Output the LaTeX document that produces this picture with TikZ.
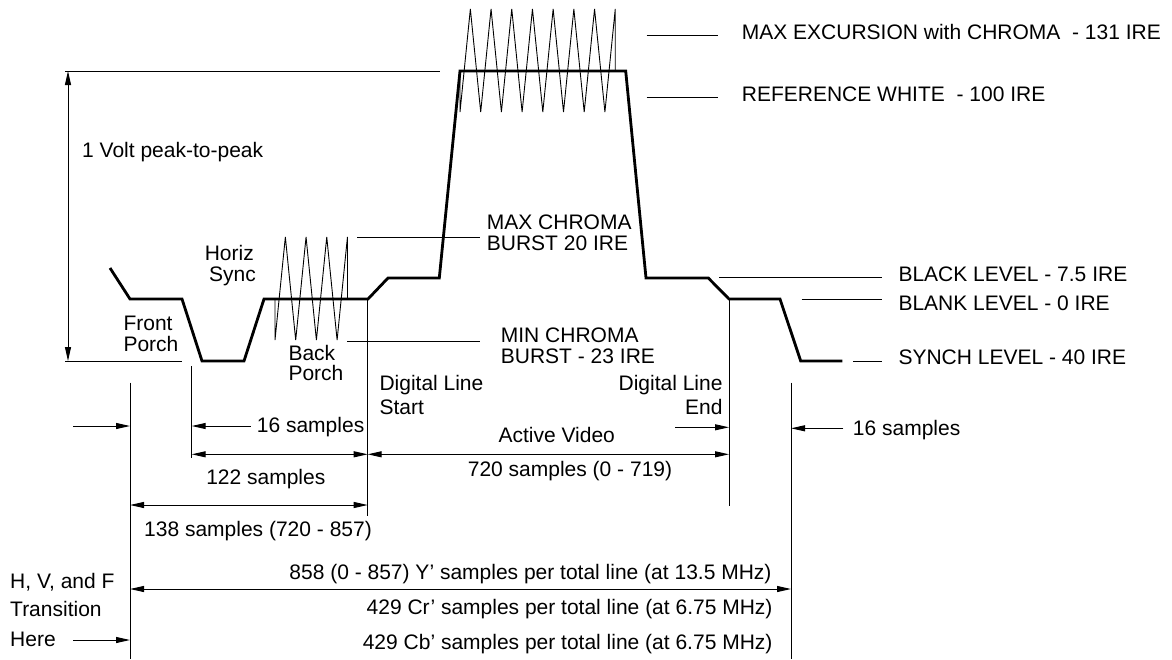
\documentclass[tikz,border=0pt]{standalone}
\usepackage{fontspec}
\setmainfont{Liberation Sans}
\usetikzlibrary{arrows.meta}
\tikzset{
  wave/.style={line width=2.8pt, line join=miter},
  thinln/.style={line width=1pt},
  burstln/.style={line width=0.9pt, line join=miter},
  dimarr/.style={thinln, {Triangle[length=14pt,width=6pt]}-{Triangle[length=14pt,width=6pt]}},
  onearr/.style={thinln, -{Triangle[length=14pt,width=6pt]}},
  lbl/.style={inner sep=0pt, font=\fontsize{21}{24}\selectfont},
}
\begin{document}
\begin{tikzpicture}[x=1pt,y=-1pt]
\useasboundingbox (0,0) rectangle (1172,659);

% ---------- waveform ----------
\draw[wave] (110,268) -- (130,299) -- (182,299) -- (202,361) -- (244,361) -- (264,299)
  -- (368,299) -- (388,278) -- (439.3,278) -- (460,71) -- (625.7,71) -- (646,278)
  -- (708.3,278) -- (729,299) -- (780,299) -- (800.7,361) -- (842.3,361);

% color burst (small)
\draw[burstln] (275,299) -- (275,340)
  \foreach \k in {0,1,2} { -- ({285.35+20.7*\k},237) -- ({295.7+20.7*\k},340) }
  -- (347.45,237) -- (347.45,299);
% chroma (big)
\draw[burstln] (460,71) -- (460,112)
  \foreach \k in {0,...,6} { -- ({470.35+20.7*\k},9) -- ({480.7+20.7*\k},112) }
  -- (615.25,9) -- (615.25,71);

% ---------- 1 V peak-to-peak ----------
\coordinate (ptop) at (68,71);
\coordinate (pbot) at (68,361);
\draw[thinln] (65,71) -- (440,71);
\draw[thinln] (65,361) -- (182,361);
\draw[dimarr] (ptop) -- (pbot);
\node[lbl, anchor=base west] (volt) at (82,157.3) {1 Volt peak-to-peak};

% ---------- leader lines ----------
\draw[thinln] (646.7,35.7) -- (718.3,35.7);
\draw[thinln] (646.7,97.7) -- (718.3,97.7);
\draw[thinln] (357,237) -- (480,237);
\draw[thinln] (347,341) -- (480,341);
\draw[thinln] (719,277.7) -- (882.3,277.7);
\draw[thinln] (801.7,299) -- (882.3,299);
\draw[thinln] (853.3,361) -- (882.3,361);

% ---------- level labels ----------
\node[lbl, anchor=base west] (maxexc) at (741.7,39.3) {MAX EXCURSION with CHROMA\ \ - 131 IRE};
\node[lbl, anchor=base west] (refwh) at (741.7,101.3) {REFERENCE WHITE\ \ - 100 IRE};
\node[lbl, anchor=base west] (black) at (898.3,281.7) {BLACK LEVEL - 7.5 IRE};
\node[lbl, anchor=base west] (blank) at (898.3,310) {BLANK LEVEL - 0 IRE};
\node[lbl, anchor=base west] (synch) at (898.3,364.3) {SYNCH LEVEL - 40 IRE};

\node[lbl, anchor=base west] (maxc1) at (486.7,229.3) {MAX CHROMA};
\node[lbl, anchor=base west] (maxc2) at (486.7,250) {BURST 20 IRE};
\node[lbl, anchor=base west] (minc1) at (500.7,342.7) {MIN CHROMA};
\node[lbl, anchor=base west] (minc2) at (500.7,363.3) {BURST - 23 IRE};

\node[lbl, anchor=base east] (hz1) at (254,260) {Horiz};
\node[lbl, anchor=base east] (hz2) at (256,281) {Sync};
\node[lbl, anchor=base west] (fp1) at (123.3,330) {Front};
\node[lbl, anchor=base west] (fp2) at (123.3,351) {Porch};
\node[lbl, anchor=base west] (bp1) at (288.3,360.7) {Back};
\node[lbl, anchor=base west] (bp2) at (288.3,380) {Porch};

\node[lbl, anchor=base west] (ds1) at (379.3,390.7) {Digital Line};
\node[lbl, anchor=base west] (ds2) at (379.3,414.3) {Start};
\node[lbl, anchor=base east] (de1) at (722.7,390.7) {Digital Line};
\node[lbl, anchor=base east] (de2) at (722.7,414.3) {End};

% ---------- vertical reference lines ----------
\coordinate (vAt) at (130,382.7); \coordinate (vAb) at (130,659);
\coordinate (vBt) at (191.7,366); \coordinate (vBb) at (191.7,458.3);
\coordinate (vCt) at (367.7,299); \coordinate (vCb) at (367.7,515.7);
\coordinate (vDt) at (729,299);   \coordinate (vDb) at (729,505.7);
\coordinate (vEt) at (791,382.7); \coordinate (vEb) at (791,659);
\draw[thinln] (vAt) -- (vAb);
\draw[thinln] (vBt) -- (vBb);
\draw[thinln] (vCt) -- (vCb);
\draw[thinln] (vDt) -- (vDb);
\draw[thinln] (vEt) -- (vEb);

% ---------- dimension arrows ----------
\coordinate (a1s) at (73,426);    \coordinate (a1e) at (130,426);
\draw[onearr] (a1s) -- (a1e);
\coordinate (a2s) at (250.7,426); \coordinate (a2e) at (191.7,426);
\draw[onearr] (a2s) -- (a2e);
\node[lbl, anchor=base west] (s16a) at (256.7,432.3) {16 samples};

\coordinate (a3s) at (191.7,454.3); \coordinate (a3e) at (367.7,454.3);
\draw[dimarr] (a3s) -- (a3e);
\node[lbl, anchor=base] (s122) at (265.8,484.3) {122 samples};

\coordinate (a4s) at (367.7,454.3); \coordinate (a4e) at (729,454.3);
\draw[dimarr] (a4s) -- (a4e);
\node[lbl, anchor=base] (actv) at (556.7,442.7) {Active Video};
\node[lbl, anchor=base] (s720) at (570,476) {720 samples (0 - 719)};

\coordinate (a5s) at (675,427.3); \coordinate (a5e) at (729,427.3);
\draw[onearr] (a5s) -- (a5e);

\coordinate (a6s) at (843.3,428.3); \coordinate (a6e) at (791,428.3);
\draw[onearr] (a6s) -- (a6e);
\node[lbl, anchor=base west] (s16b) at (852.7,435) {16 samples};

\coordinate (a7s) at (130,505); \coordinate (a7e) at (367.7,505);
\draw[dimarr] (a7s) -- (a7e);
\node[lbl, anchor=base west] (s138) at (144,536.7) {138 samples (720 - 857)};

\coordinate (a8s) at (130,589); \coordinate (a8e) at (791,589);
\draw[dimarr] (a8s) -- (a8e);
\node[lbl, anchor=base east] (s858) at (771.7,579.3) {858 (0 - 857) Y’ samples per total line (at 13.5 MHz)};
\node[lbl, anchor=base east] (s429r) at (772.7,614.3) {429 Cr’ samples per total line (at 6.75 MHz)};
\node[lbl, anchor=base east] (s429b) at (772.7,649.3) {429 Cb’ samples per total line (at 6.75 MHz)};

\node[lbl, anchor=base west] (hv1) at (10,588.3) {H, V, and F};
\node[lbl, anchor=base west] (hv2) at (10,616) {Transition};
\node[lbl, anchor=base west] (hv3) at (10,646) {Here};
\coordinate (a9s) at (73,640); \coordinate (a9e) at (130,640);
\draw[onearr] (a9s) -- (a9e);
\end{tikzpicture}
\end{document}
